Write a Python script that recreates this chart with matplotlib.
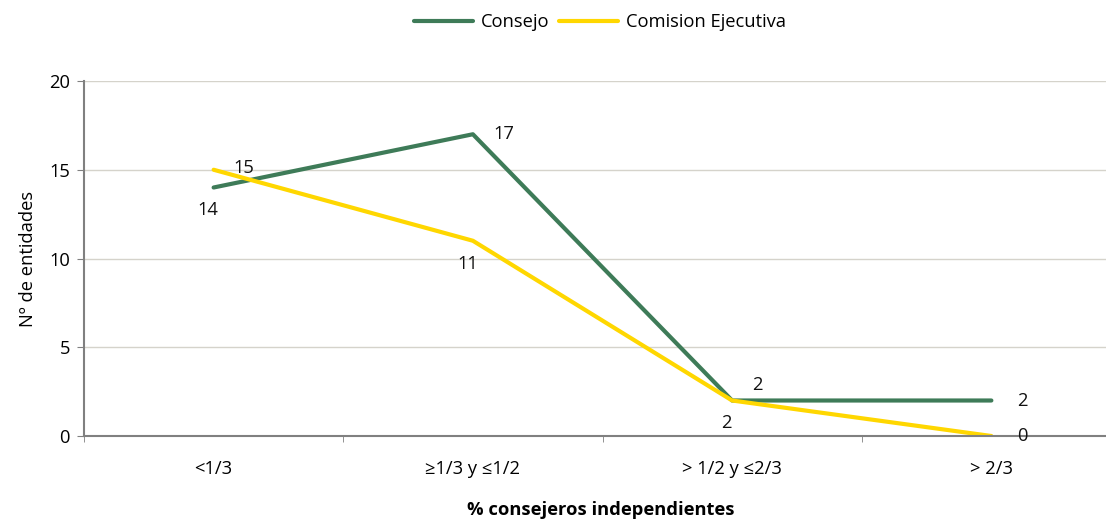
import matplotlib
matplotlib.use("Agg")
import matplotlib.pyplot as plt
import numpy as np

plt.rcParams["font.family"] = ["Open Sans", "DejaVu Sans"]

categories = ["<1/3", "≥1/3 y ≤1/2", "> 1/2 y ≤2/3", "> 2/3"]
consejo = [14, 17, 2, 2]
comision = [15, 11, 2, 0]

GREEN = "#3E7B58"
YELLOW = "#FFD700"
FS = 13.2

W, H = 1106, 519
fig = plt.figure(figsize=(W / 100, H / 100), dpi=100)
left, right = 84, 1121
bottom, top = 436, 81
ax = fig.add_axes([left / W, (H - bottom) / H, (right - left) / W, (bottom - top) / H])

x = np.arange(len(categories))
ax.plot(x, consejo, color=GREEN, lw=3, label="Consejo", solid_capstyle="round")
ax.plot(x, comision, color=YELLOW, lw=3, label="Comision Ejecutiva", solid_capstyle="round")

ax.set_xlim(-0.5, len(categories) - 0.5)
ax.set_ylim(0, 20)
ax.set_yticks([0, 5, 10, 15, 20])
ax.set_xticks(x)
ax.set_xticklabels(categories)
ax.set_xticks(np.arange(-0.5, len(categories)), minor=True)
ax.tick_params(axis="x", which="major", length=0, pad=17, labelsize=FS)
ax.tick_params(axis="x", which="minor", length=4, color="#808080", direction="out")
ax.tick_params(axis="y", length=5, color="#808080", labelsize=FS, pad=5)
ax.grid(axis="y", color="#D5D3CB", linewidth=1)
ax.set_axisbelow(True)
for s in ["top", "right"]:
    ax.spines[s].set_visible(False)
for s in ["left", "bottom"]:
    ax.spines[s].set_color("#808080")
    ax.spines[s].set_linewidth(1.5)

# data labels (offsets in points)
cons_off = [(-4, -16), (22, 0), (18, 11), (22, 0)]
com_off = [(22, 1), (-4, -17), (-4, -16), (22, 0)]
for i, v in enumerate(consejo):
    ax.annotate(str(v), (x[i], v), xytext=cons_off[i], textcoords="offset points",
                ha="center", va="center", fontsize=FS, color="#111111")
for i, v in enumerate(comision):
    ax.annotate(str(v), (x[i], v), xytext=com_off[i], textcoords="offset points",
                ha="center", va="center", fontsize=FS, color="#111111")

ax.set_ylabel("Nº de entidades", fontsize=FS, labelpad=9)
fig.text(601 / W, 1 - 510 / H, "% consejeros independientes", ha="center", va="center",
         fontsize=FS, fontweight="bold")

fig.legend(loc="center", bbox_to_anchor=(600 / W, 1 - 22 / H), ncol=2, frameon=False,
           fontsize=FS, handlelength=3.2, columnspacing=0.5, handletextpad=0.45)

fig.savefig("out.png", dpi=100)
